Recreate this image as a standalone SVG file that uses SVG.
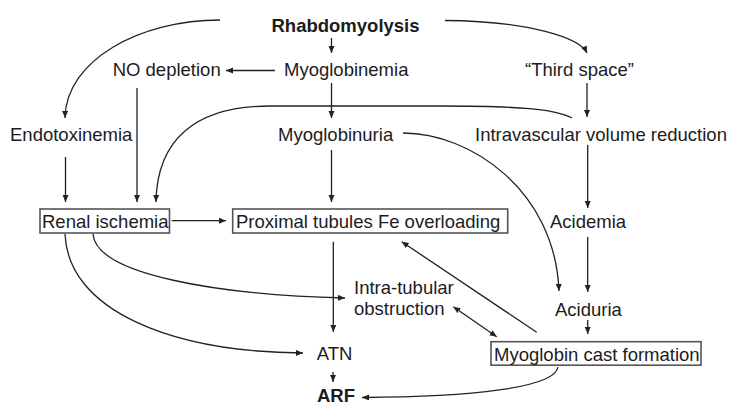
<svg xmlns="http://www.w3.org/2000/svg" width="735" height="408" viewBox="0 0 735 408">
<defs>
<marker id="ah" markerUnits="userSpaceOnUse" markerWidth="8" markerHeight="7" refX="7" refY="3" orient="auto-start-reverse">
<path d="M0,0 L7,3 L0,6 z" fill="#222"/>
</marker>
<style>
text{font-family:"Liberation Sans",Arial,sans-serif;font-size:18.5px;fill:#1c1c1c}
.b{font-weight:bold}
.box{fill:none;stroke:#555;stroke-width:1.6}
.c path{fill:none;stroke:#222;stroke-width:1.3;marker-end:url(#ah)}
</style>
</defs>
<rect width="735" height="408" fill="#fff"/>
<g id="connectors" class="c">
<path d="M331.5,38 L331.5,53"/>
<path d="M275,70.5 L226,70.5"/>
<path d="M220,20 C140,20 66,60 65,118"/>
<path d="M445,20.5 C530,21 580,38 587,53"/>
<path d="M587,83 L587,117"/>
<path d="M331.5,83 L331.5,118"/>
<path d="M137,88 L137,202"/>
<path d="M65.5,157 L65.5,202"/>
<path d="M572,118 C555,109 520,106 440,106 L270,106 C195,106 157,140 156,202"/>
<path d="M331.5,150 L331.5,202"/>
<path d="M587.7,145 L587.7,208"/>
<path d="M403,133 C470,133 555,190 559,291"/>
<path d="M587.7,237 L587.7,292"/>
<path d="M587.7,320 L587.7,334"/>
<path d="M171.7,220.7 L226,220.7"/>
<path d="M333.3,241.7 L333.3,332"/>
<path d="M93,234 C96,275 220,295 345,298"/>
<path d="M65,234 C68,310 170,352 303,353"/>
<path d="M333,372 L333,382"/>
<path d="M558,367 C555,388 470,397 362,397.5"/>
<path d="M536.7,332.3 L401.7,241.7"/>
<path d="M453.3,306.7 L496.7,336.7" marker-start="url(#ah)"/>
</g>
<g id="rhabdomyolysis"><text class="b" x="271.5" y="32">Rhabdomyolysis</text></g>
<g id="no-depletion"><text x="112.7" y="76">NO depletion</text></g>
<g id="myoglobinemia"><text x="284" y="76">Myoglobinemia</text></g>
<g id="third-space"><text x="525" y="76">“Third space”</text></g>
<g id="endotoxinemia"><text x="10" y="141">Endotoxinemia</text></g>
<g id="myoglobinuria"><text x="278" y="141">Myoglobinuria</text></g>
<g id="intravascular"><text x="475" y="141">Intravascular volume reduction</text></g>
<g id="renal-ischemia"><rect class="box" x="40" y="209" width="129.5" height="24"/><text x="42" y="227.5">Renal ischemia</text></g>
<g id="proximal"><rect class="box" x="232.7" y="209" width="275" height="24"/><text x="236" y="227.5">Proximal tubules Fe overloading</text></g>
<g id="acidemia"><text x="550" y="228">Acidemia</text></g>
<g id="intra-tubular"><text x="354" y="293.5">Intra-tubular</text><text x="354" y="315">obstruction</text></g>
<g id="aciduria"><text x="555" y="315.7">Aciduria</text></g>
<g id="atn"><text x="316.7" y="360">ATN</text></g>
<g id="cast"><rect class="box" x="491" y="341.7" width="210" height="23.5"/><text x="494" y="360.5">Myoglobin cast formation</text></g>
<g id="arf"><text class="b" x="317" y="401.7">ARF</text></g>
</svg>
